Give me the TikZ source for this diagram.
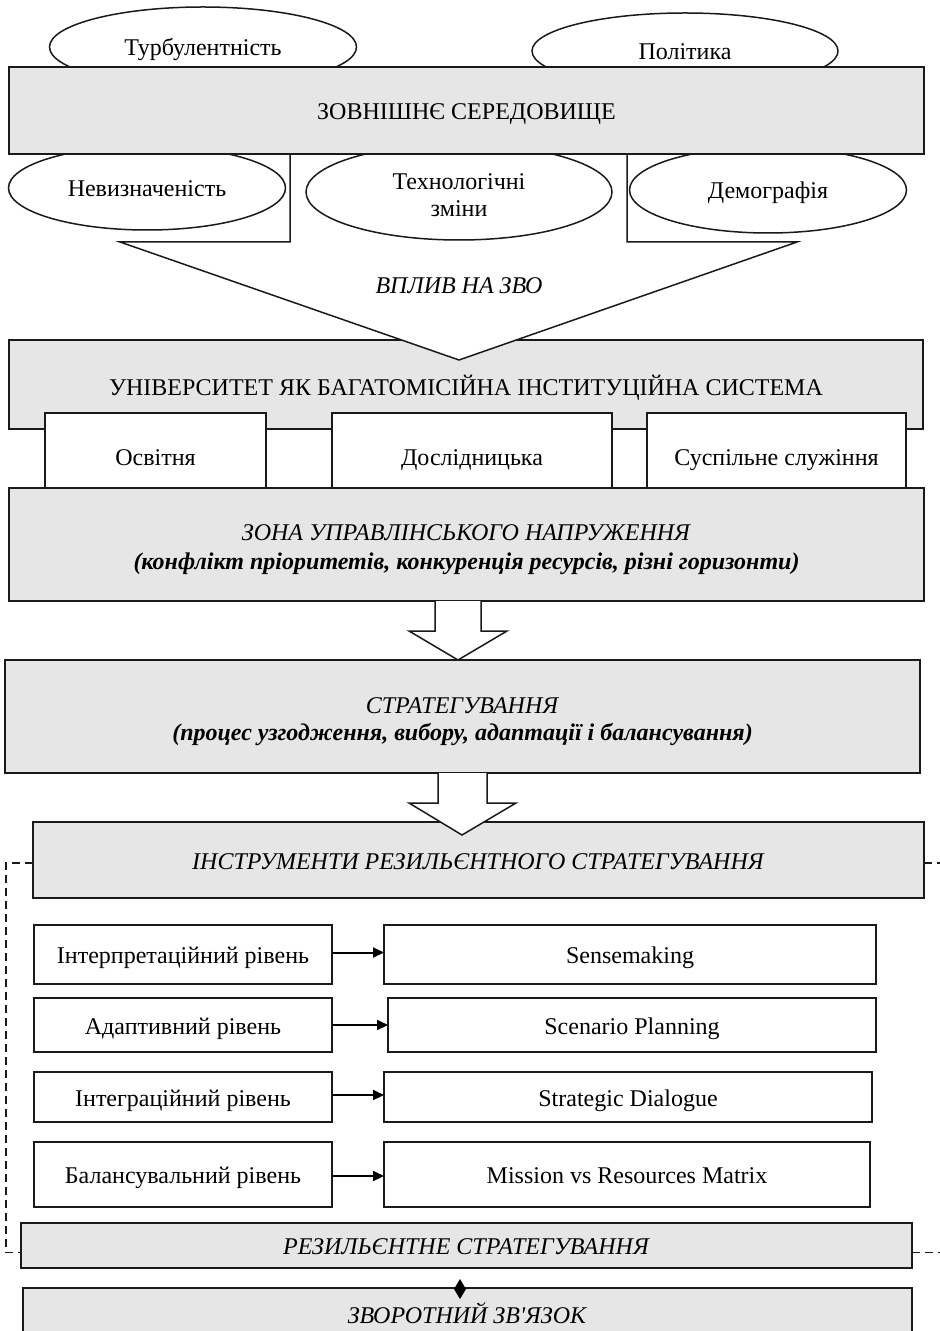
\documentclass[tikz,border=0pt]{standalone}
\usepackage{fontspec}
\setmainfont{Liberation Serif}[Ligatures=TeXOff]
\usetikzlibrary{shapes.geometric,arrows.meta}
\definecolor{boxgray}{HTML}{E6E6E6}
\definecolor{linegray}{HTML}{1A1A1A}

\begin{document}
\begin{tikzpicture}[x=0.5pt,y=-0.5pt,
  every node/.style={inner sep=0pt, outer sep=0pt, font=\fontsize{12}{14}\selectfont},
  oneline/.style={text height=9pt, text depth=0pt},
  lowline/.style={text height=15pt, text depth=0pt},
  frame/.style={draw=linegray, line width=0.75pt},
  graybox/.style={frame, fill=boxgray, rectangle},
  whitebox/.style={frame, fill=white, rectangle},
  oval/.style={frame, fill=white, ellipse},
  blockarrow/.style={frame, fill=white, line join=miter},
  levelarrow/.style={draw=black, line width=1pt, -{Triangle[length=5.5pt,width=5pt]}},
  feedback/.style={draw=linegray, line width=0.7pt, dash pattern=on 4pt off 2.5pt},
]
\clip (0,0) rectangle (940,1331);
\fill[white] (0,0) rectangle (940,1331);

% university and its three missions
\node[graybox, minimum width=457pt, minimum height=44.5pt] (uni) at (466,384.5) {};
\node[oneline] at (466,387) (unitext) {УНІВЕРСИТЕТ ЯК БАГАТОМІСІЙНА ІНСТИТУЦІЙНА СИСТЕМА};
\node[whitebox, lowline, minimum width=110.5pt, minimum height=37.5pt] (edu) at (155.5,450.5) {Освітня};
\node[whitebox, lowline, minimum width=140pt, minimum height=37.5pt] (res1) at (472,450.5) {Дослідницька};
\node[whitebox, lowline, minimum width=129.5pt, minimum height=37.5pt] (serv) at (776.5,450.5) {Суспільне служіння};

% tension zone
\node[graybox, minimum width=457.5pt, minimum height=56.5pt] (zone) at (466.5,544.5) {};
\node[align=center, font=\fontsize{12}{14.5}\selectfont] (zonetext) at (466.5,550)
  {\textit{ЗОНА УПРАВЛІНСЬКОГО НАПРУЖЕННЯ}\\
   \textbf{\textit{(конфлікт пріоритетів, конкуренція ресурсів, різні горизонти)}}};

% funnel arrow from the environment into the university
\draw[blockarrow] (290,154) -- (290,242) -- (120,242) -- (459,360) -- (797,242)
  -- (627,242) -- (627,154);
\node[oneline] at (459,285) (impact) {\textit{ВПЛИВ НА ЗВО}};

% environmental factors
\node[oval, oneline, minimum width=138.5pt, minimum height=42pt] (uncert) at (147,188) {Невизначеність};
\node[oval, minimum width=153pt, minimum height=48pt] (tech) at (459,192) {};
\node[align=center, font=\fontsize{12}{13.5}\selectfont] (techtext) at (459,195) {Технологічні\\зміни};
\node[oval, oneline, minimum width=138.5pt, minimum height=43pt] (demo) at (768,190) {Демографія};
\node[oval, oneline, minimum width=153.5pt, minimum height=40pt] (turb) at (203,47) {Турбулентність};
\node[oval, oneline, minimum width=153pt, minimum height=38pt] (pol) at (685,51) {Політика};

% external environment
\node[graybox, oneline, minimum width=457.5pt, minimum height=43.5pt] (env) at (466.5,110.5)
  {ЗОВНІШНЄ СЕРЕДОВИЩЕ};

% strategizing
\node[graybox, minimum width=457.5pt, minimum height=56.5pt] (strat) at (462.5,716.5) {};
\node[align=center, font=\fontsize{12}{13.5}\selectfont] (strattext) at (462.5,722)
  {\textit{СТРАТЕГУВАННЯ}\\
   \textbf{\textit{(процес узгодження, вибору, адаптації і балансування)}}};
\draw[blockarrow] (435,601) -- (435,631) -- (409,631) -- (458,660) -- (507,631)
  -- (481,631) -- (481,601);

% tools of resilient strategizing
\node[graybox, oneline, minimum width=445.5pt, minimum height=38pt] (instr) at (478.5,860)
  {\textit{ІНСТРУМЕНТИ РЕЗИЛЬЄНТНОГО СТРАТЕГУВАННЯ}};
\draw[blockarrow] (438,773) -- (438,803) -- (409,803) -- (462,835) -- (516,803)
  -- (487,803) -- (487,773);

% levels and their instruments
\node[whitebox, oneline, minimum width=149pt, minimum height=29.5pt] (l1) at (183,954.5) {Інтерпретаційний рівень};
\node[whitebox, oneline, minimum width=149pt, minimum height=27pt] (l2) at (183,1025) {Адаптивний рівень};
\node[whitebox, oneline, minimum width=149pt, minimum height=25pt] (l3) at (183,1097) {Інтеграційний рівень};
\node[whitebox, oneline, minimum width=149pt, minimum height=32.5pt] (l4) at (183,1174.5) {Балансувальний рівень};

\node[whitebox, oneline, minimum width=246pt, minimum height=29.5pt] (t1) at (630,954.5) {Sensemaking};
\node[whitebox, oneline, minimum width=244pt, minimum height=27pt] (t2) at (632,1025) {Scenario Planning};
\node[whitebox, oneline, minimum width=244pt, minimum height=25pt] (t3) at (628,1097) {Strategic Dialogue};
\node[whitebox, oneline, minimum width=243pt, minimum height=32.5pt] (t4) at (627,1174.5) {Mission vs Resources Matrix};

\draw[levelarrow] ([yshift=1pt]l1.east) -- ([yshift=1pt]l1.east -| t1.west);
\draw[levelarrow] (l2.east) -- (l2.east -| t2.west);
\draw[levelarrow] ([yshift=1pt]l3.east) -- ([yshift=1pt]l3.east -| t3.west);
\draw[levelarrow] ([yshift=-0.75pt]l4.east) -- ([yshift=-0.75pt]l4.east -| t4.west);

% resilient strategizing and feedback
\node[graybox, oneline, minimum width=445.5pt, minimum height=22.5pt] (resil) at (466.5,1245.5)
  {\textit{РЕЗИЛЬЄНТНЕ СТРАТЕГУВАННЯ}};
\node[graybox, oneline, minimum width=444.5pt, minimum height=26pt] (fb) at (467.5,1314)
  {\textit{ЗВОРОТНИЙ ЗВ'ЯЗОК}};
\coordinate (link) at (460,1289);
\fill[black] (link) +(0,-10) -- +(6,0) -- +(0,10) -- +(-6,0) -- cycle;

% feedback loop lines
\coordinate (loopL) at (6,0);
\coordinate (edgeA) at (940,0);
\draw[feedback] ([yshift=-1.5pt]instr.west) -- ([yshift=-1.5pt]instr.west -| loopL)
  |- ([yshift=-3.5pt]resil.west);
\draw[feedback] ([yshift=-1.5pt]instr.east) -- ([yshift=-1.5pt]instr.east -| edgeA);
\draw[feedback] ([yshift=-3.5pt]resil.east) -- ([yshift=-3.5pt]resil.east -| edgeA);
\end{tikzpicture}
\end{document}
